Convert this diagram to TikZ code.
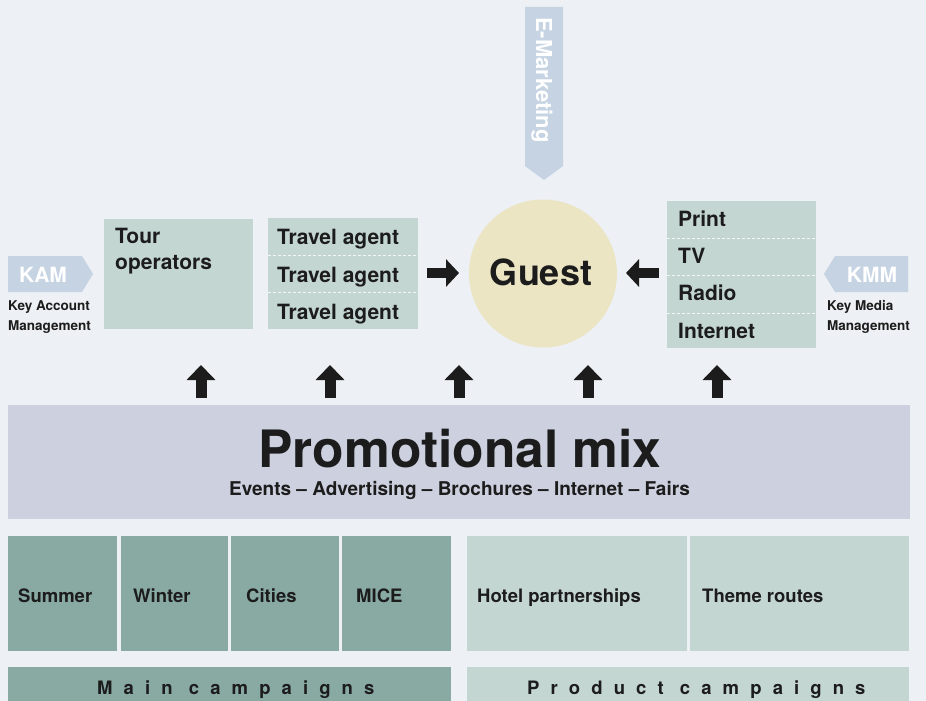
\documentclass[tikz,border=0pt]{standalone}
\usepackage{fontspec}
\setmainfont{TeX Gyre Heros}
\usetikzlibrary{arrows.meta}
\definecolor{bg}{RGB}{237,240,244}
\definecolor{promoc}{RGB}{205,209,223}
\definecolor{darkteal}{RGB}{137,170,163}
\definecolor{lightteal}{RGB}{196,214,210}
\definecolor{guestc}{RGB}{236,229,196}
\definecolor{tagc}{RGB}{197,211,227}
\definecolor{ink}{RGB}{28,28,28}
\begin{document}
\begin{tikzpicture}[x=1pt,y=-1pt,
  box/.style={anchor=north west, inner sep=0pt, outer sep=0pt, draw=none},
  lbl/.style={anchor=base west, inner sep=0pt, text=ink, font=\fontsize{21}{22}\selectfont\bfseries},
  sml/.style={anchor=base west, inner sep=0pt, text=ink, font=\fontsize{18.5}{20}\selectfont\bfseries},
  note/.style={anchor=base west, inner sep=0pt, text=ink, font=\fontsize{13.5}{15}\selectfont\bfseries},
  tagtxt/.style={inner sep=0pt, text=white, font=\fontsize{21}{22}\selectfont\bfseries},
  spaced/.style={anchor=base west, inner sep=0pt, text=ink, font=\fontsize{18.5}{20}\selectfont\bfseries\addfontfeature{LetterSpace=60}},
  blkup/.style={line width=11pt, draw=ink, -{Triangle[width=28pt,length=15pt]}},
  blkside/.style={line width=10pt, draw=ink, -{Triangle[width=27pt,length=13pt]}},
  divider/.style={draw=white, line width=0.8pt, dash pattern=on 3pt off 2pt, opacity=0.8}
]
\fill[bg] (0,0) rectangle (926,701);
\useasboundingbox (0,0) rectangle (926,701);

% E-Marketing tag
\fill[tagc] (525,7) -- (563,7) -- (563,166) -- (544,180) -- (525,166) -- cycle;
\node[tagtxt, rotate=-90, font=\fontsize{22}{23}\selectfont\bfseries] (emk) at (542,80) {E-Marketing};

% KAM tag
\fill[tagc] (8,256) -- (82,256) -- (93,274) -- (82,292) -- (8,292) -- cycle;
\node[tagtxt, anchor=base] (kam) at (43,282) {KAM};
\node[note] (kam1) at (8,310) {Key Account};
\node[note] (kam2) at (8,330) {Management};

% KMM tag
\fill[tagc] (824,274) -- (835,256) -- (908,256) -- (908,292) -- (835,292) -- cycle;
\node[tagtxt, anchor=base] (kmm) at (872,282) {KMM};
\node[note] (kmm1) at (827,310) {Key Media};
\node[note] (kmm2) at (827,330) {Management};

% Tour operators
\node[box, fill=lightteal, minimum width=149pt, minimum height=110pt] (tour) at (104,219) {};
\node[lbl] (tourt1) at (115,243) {Tour};
\node[lbl] (tourt2) at (115,269) {operators};

% Travel agents
\node[box, fill=lightteal, minimum width=150pt, minimum height=111pt] (ta) at (268,218) {};
\draw[divider] (268,255.5) -- (418,255.5);
\draw[divider] (268,292.5) -- (418,292.5);
\node[lbl] (ta1) at (277,244) {Travel agent};
\node[lbl] (ta2) at (277,282) {Travel agent};
\node[lbl] (ta3) at (277,319) {Travel agent};

% Media box
\node[box, fill=lightteal, minimum width=149pt, minimum height=147pt] (media) at (667,201) {};
\draw[divider] (667,238) -- (816,238);
\draw[divider] (667,275) -- (816,275);
\draw[divider] (667,313) -- (816,313);
\node[lbl] (m1) at (678,226) {Print};
\node[lbl] (m2) at (678,263) {TV};
\node[lbl] (m3) at (678,300) {Radio};
\node[lbl] (m4) at (678,338) {Internet};

% Guest
\node[circle, fill=guestc, minimum size=148pt, inner sep=0pt] (guest) at (543,273.5) {};
\node[anchor=base, inner sep=0pt, text=ink, font=\fontsize{36}{38}\selectfont\bfseries] (guestt) at (541,285) {Guest};

% side arrows
\coordinate (ra1) at (427,273);
\coordinate (ra2) at (459,273);
\coordinate (la1) at (659,273);
\coordinate (la2) at (626,273);
\draw[blkside] (ra1) -- (ra2);
\draw[blkside] (la1) -- (la2);

% Promotional mix
\node[box, fill=promoc, minimum width=902pt, minimum height=114pt] (promo) at (8,405) {};
\node[anchor=base, inner sep=0pt, text=ink, font=\fontsize{51.5}{53}\selectfont\bfseries] (promot) at (460,467) {Promotional mix};
\node[anchor=base, inner sep=0pt, text=ink, font=\fontsize{19}{21}\selectfont\bfseries] (promos) at (459.5,495) {Events – Advertising – Brochures – Internet – Fairs};

% up arrows
\foreach \i/\x in {1/201,2/330,3/459,4/588,5/717}{
  \coordinate (us\i) at (\x,398);
  \coordinate (ue\i) at (\x,365);
  \draw[blkup] (us\i) -- (ue\i);
}

% Main campaigns
\node[box, fill=darkteal, minimum width=109pt, minimum height=115pt] (summer) at (8,536) {};
\node[box, fill=darkteal, minimum width=107pt, minimum height=115pt] (winter) at (121,536) {};
\node[box, fill=darkteal, minimum width=108pt, minimum height=115pt] (cities) at (231,536) {};
\node[box, fill=darkteal, minimum width=109pt, minimum height=115pt] (mice) at (342,536) {};
\node[sml] (summert) at (18,602) {Summer};
\node[sml] (wintert) at (133,602) {Winter};
\node[sml] (citiest) at (246,602) {Cities};
\node[sml] (micet) at (356,602) {MICE};
\node[box, fill=darkteal, minimum width=443pt, minimum height=34pt] (mainc) at (8,667) {};
\node[spaced] (maint) at (97,694) {Main campaigns};

% Product campaigns
\node[box, fill=lightteal, minimum width=220pt, minimum height=115pt] (hotel) at (467,536) {};
\node[box, fill=lightteal, minimum width=219pt, minimum height=115pt] (theme) at (690,536) {};
\node[sml] (hotelt) at (477,602) {Hotel partnerships};
\node[sml] (themet) at (702,602) {Theme routes};
\node[box, fill=lightteal, minimum width=442pt, minimum height=34pt] (prodc) at (467,667) {};
\node[spaced] (prodt) at (527,694) {Product campaigns};
\end{tikzpicture}
\end{document}
